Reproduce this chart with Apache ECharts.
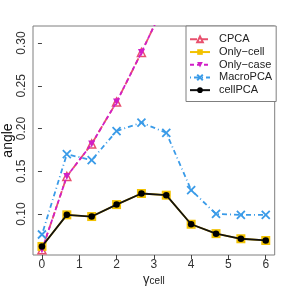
<!DOCTYPE html>
<html><head><meta charset="utf-8">
<script src="https://cdn.jsdelivr.net/npm/echarts@6/dist/echarts.min.js"></script>
<style>html,body{margin:0;padding:0;background:#fff}#c{width:288px;height:288px}</style>
</head><body><div id="c"></div>
<script>
var gammaCell = [0, 0.667, 1.333, 2, 2.667, 3.333, 4, 4.667, 5.333, 6];
var cpca     = [0.058, 0.144, 0.182, 0.231, 0.289, 0.350, 0.400, 0.440, 0.470, 0.500];
var onlyCell = [0.062, 0.099, 0.097, 0.111, 0.124, 0.122, 0.088, 0.077, 0.071, 0.069];
var onlyCase = [0.058, 0.144, 0.182, 0.231, 0.289, 0.350, 0.400, 0.440, 0.470, 0.500];
var macroPCA = [0.076, 0.170, 0.163, 0.197, 0.207, 0.195, 0.128, 0.100, 0.099, 0.099];
var cellPCA  = [0.062, 0.099, 0.097, 0.111, 0.124, 0.122, 0.088, 0.077, 0.071, 0.069];
var xTicks = [0, 1, 2, 3, 4, 5, 6];
var yTicks = [0.10, 0.15, 0.20, 0.25, 0.30];

function pairs(v){ return gammaCell.map(function(x,i){ return [x, v[i]]; }); }
var FONT = 'Liberation Sans';
var chart = echarts.init(document.getElementById('c'));
chart.setOption({
  animation: false,
  textStyle: { fontFamily: FONT },
  grid: { left: 33, top: 26, right: 13.3, bottom: 33, containLabel: false, outerBoundsMode: 'none',
          show: true, borderColor: '#7f7f7f', borderWidth: 1, backgroundColor: 'transparent' },
  xAxis: {
    type: 'value', min: -0.24, max: 6.24,
    axisLine: { show: false },
    splitLine: { show: false },
    axisTick: { show: true, inside: false, length: 4, lineStyle: { color: '#444' }, customValues: xTicks },
    axisLabel: { customValues: xTicks, color: '#333', fontSize: 12, margin: 4, fontFamily: FONT },
    name: '{g|γ}{s|cell}', nameLocation: 'middle', nameGap: 15, nameMoveOverlap: false,
    nameTextStyle: { verticalAlign: 'top', rich: { g: { fontSize: 13, color: '#222', fontFamily: FONT, padding: [2,0,0,0] }, s: { fontSize: 10, color: '#222', fontFamily: FONT, padding: [6,0,0,0] } } }
  },
  yAxis: {
    type: 'value', min: 0.052, max: 0.320,
    axisLine: { show: false },
    splitLine: { show: false },
    axisTick: { show: true, inside: false, length: 4, lineStyle: { color: '#444' }, customValues: yTicks },
    axisLabel: { customValues: yTicks, rotate: 90, color: '#333', fontSize: 12, margin: 5, fontFamily: FONT,
      formatter: function(v){ return v.toFixed(2); } },
    name: 'angle', nameLocation: 'middle', nameRotate: 90, nameGap: 18, nameMoveOverlap: false,
    nameTextStyle: { fontSize: 14, color: '#111', fontFamily: FONT }
  },
  legend: {
    orient: 'vertical', left: 186, top: 26,
    backgroundColor: '#fff', borderColor: '#7f7f7f', borderWidth: 1,
    padding: [7, 4, 5, 3], itemGap: 0, itemWidth: 20, itemHeight: 7,
    textStyle: { fontSize: 11, lineHeight: 12.7, color: '#222', fontFamily: FONT, padding: [0,0,0,4] },
    data: ['CPCA', 'Only\u2212cell', 'Only\u2212case', 'MacroPCA', 'cellPCA']
  },
  series: [
    { name: 'CPCA', type: 'line', data: pairs(cpca), color: '#E8506E',
      lineStyle: { width: 1.8, type: [7, 4], color: '#E8506E' },
      symbol: 'triangle', symbolSize: 8, itemStyle: { color: '#fff', borderColor: '#E8506E', borderWidth: 1.5 }, z: 2 },
    { name: 'Only\u2212cell', type: 'line', data: pairs(onlyCell), color: '#F2C200',
      lineStyle: { width: 1.8, color: '#F2C200' },
      symbol: 'rect', symbolSize: 9, itemStyle: { color: '#F2C200' }, z: 3 },
    { name: 'Only\u2212case', type: 'line', data: pairs(onlyCase), color: '#D11FC6',
      lineStyle: { width: 1.8, type: [4, 3], color: '#D11FC6' },
      symbol: 'triangle', symbolRotate: 180, symbolSize: 7, itemStyle: { color: '#D11FC6' }, z: 4 },
    { name: 'MacroPCA', type: 'line', data: pairs(macroPCA), color: '#3A9BE8',
      lineStyle: { width: 1.8, type: [1, 3, 5, 3], color: '#3A9BE8' },
      symbol: 'path://M0,0L2,2M2,0L0,2', symbolSize: 8, itemStyle: { color: 'none', borderColor: '#3A9BE8', borderWidth: 1.8 }, z: 5 },
    { name: 'cellPCA', type: 'line', data: pairs(cellPCA), color: '#000',
      lineStyle: { width: 1.8, color: '#111' },
      symbol: 'circle', symbolSize: 6.5, itemStyle: { color: '#000' }, z: 6 }
  ]
});
</script></body></html>
